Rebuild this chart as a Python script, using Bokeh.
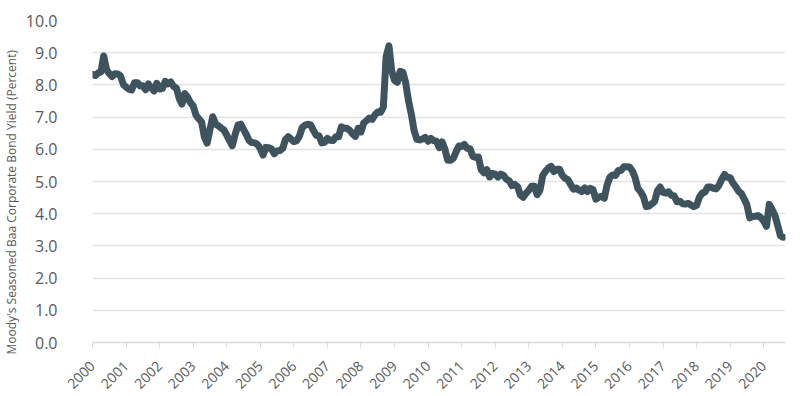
import math
from bokeh.plotting import figure
from bokeh.models import ColumnDataSource, FixedTicker, Range1d, NumeralTickFormatter, Title
from bokeh.embed import file_html
from bokeh.resources import INLINE

years = list(range(2000, 2021))
baa_2000 = [8.33, 8.29, 8.37, 8.40, 8.90, 8.48, 8.35, 8.26, 8.35, 8.34, 8.28, 8.02]
baa_2001 = [7.93, 7.87, 7.84, 8.07, 8.07, 7.97, 7.97, 7.85, 8.03, 7.91, 7.81, 8.05]
baa_2002 = [7.87, 7.89, 8.11, 8.03, 8.09, 7.95, 7.90, 7.58, 7.40, 7.73, 7.62, 7.45]
baa_2003 = [7.35, 7.06, 6.95, 6.85, 6.38, 6.19, 6.62, 7.01, 6.79, 6.73, 6.66, 6.60]
baa_2004 = [6.44, 6.27, 6.11, 6.46, 6.75, 6.78, 6.62, 6.46, 6.27, 6.21, 6.20, 6.15]
baa_2005 = [6.02, 5.82, 6.06, 6.05, 6.01, 5.86, 5.95, 5.96, 6.03, 6.30, 6.39, 6.32]
baa_2006 = [6.24, 6.27, 6.41, 6.68, 6.75, 6.78, 6.76, 6.59, 6.43, 6.42, 6.20, 6.22]
baa_2007 = [6.34, 6.28, 6.27, 6.39, 6.39, 6.70, 6.65, 6.65, 6.59, 6.48, 6.40, 6.65]
baa_2008 = [6.54, 6.82, 6.89, 6.97, 6.93, 7.07, 7.16, 7.15, 7.31, 8.88, 9.21, 8.43]
baa_2009 = [8.14, 8.08, 8.42, 8.39, 8.06, 7.50, 7.09, 6.58, 6.31, 6.29, 6.32, 6.37]
baa_2010 = [6.25, 6.34, 6.27, 6.25, 6.05, 6.23, 6.01, 5.66, 5.66, 5.72, 5.92, 6.10]
baa_2011 = [6.09, 6.15, 6.03, 6.02, 5.78, 5.75, 5.76, 5.36, 5.27, 5.37, 5.14, 5.25]
baa_2012 = [5.23, 5.14, 5.23, 5.19, 5.07, 5.02, 4.87, 4.91, 4.84, 4.58, 4.51, 4.63]
baa_2013 = [4.73, 4.85, 4.85, 4.59, 4.73, 5.19, 5.32, 5.42, 5.47, 5.31, 5.38, 5.38]
baa_2014 = [5.19, 5.10, 5.06, 4.90, 4.76, 4.80, 4.73, 4.69, 4.80, 4.69, 4.79, 4.74]
baa_2015 = [4.45, 4.51, 4.54, 4.48, 4.89, 5.13, 5.20, 5.19, 5.34, 5.34, 5.46, 5.46]
baa_2016 = [5.45, 5.34, 5.13, 4.79, 4.68, 4.53, 4.22, 4.24, 4.31, 4.38, 4.71, 4.83]
baa_2017 = [4.66, 4.64, 4.68, 4.57, 4.55, 4.37, 4.39, 4.31, 4.30, 4.32, 4.27, 4.22]
baa_2018 = [4.26, 4.51, 4.64, 4.67, 4.83, 4.83, 4.79, 4.77, 4.88, 5.07, 5.22, 5.13]
baa_2019 = [5.12, 4.95, 4.84, 4.70, 4.63, 4.46, 4.28, 3.87, 3.91, 3.92, 3.94, 3.88]
baa_2020 = [3.77, 3.61, 4.29, 4.13, 3.95, 3.64, 3.31, 3.27]

series = [baa_2000, baa_2001, baa_2002, baa_2003, baa_2004, baa_2005, baa_2006,
          baa_2007, baa_2008, baa_2009, baa_2010, baa_2011, baa_2012, baa_2013,
          baa_2014, baa_2015, baa_2016, baa_2017, baa_2018, baa_2019, baa_2020]

xs, ys = [], []
for yr, vals in zip(years, series):
    for m, v in enumerate(vals):
        xs.append(yr + m / 12.0)
        ys.append(v)

y_ticks = [0, 1, 2, 3, 4, 5, 6, 7, 8, 9, 10]
y_title = "Moody's Seasoned Baa Corporate Bond Yield (Percent)"

src = ColumnDataSource(dict(x=xs, y=ys))

p = figure(width=800, height=396, output_backend="svg", toolbar_location=None,
           x_range=Range1d(2000, 2020.65), y_range=Range1d(0, 10),
           min_border_left=92, min_border_right=15, min_border_top=20, min_border_bottom=53)
p.outline_line_color = None

p.line('x', 'y', source=src, line_width=7, line_color="#3e535e", line_join="round", line_cap="round")

# x axis
p.xaxis.ticker = FixedTicker(ticks=years)
p.xaxis.major_label_overrides = {y: str(y) for y in years}
p.xaxis.major_label_orientation = math.pi / 4
p.xaxis.axis_line_color = "#d9d9d9"
p.xaxis.axis_line_width = 1.5
p.xaxis.major_tick_line_color = "#d9d9d9"
p.xaxis.major_tick_out = 5
p.xaxis.major_tick_in = 0
p.xaxis.minor_tick_line_color = None
p.xaxis.major_label_text_font = "Open Sans"
p.xaxis.major_label_text_font_size = "14px"
p.xaxis.major_label_text_color = "#595959"
p.xaxis.major_label_standoff = 16

# y axis
p.yaxis.ticker = FixedTicker(ticks=y_ticks)
p.yaxis.formatter = NumeralTickFormatter(format="0.0")
p.yaxis.axis_line_color = None
p.yaxis.major_tick_line_color = None
p.yaxis.minor_tick_line_color = None
p.yaxis.major_label_text_font = "Open Sans"
p.yaxis.major_label_text_font_size = "16px"
p.yaxis.major_label_text_color = "#595959"
p.yaxis.major_label_standoff = 29

title = Title(text=y_title, align="left", offset=-12, vertical_align="top",
              text_font="Open Sans", text_font_size="12px", text_color="#595959",
              text_font_style="normal", standoff=2)
p.add_layout(title, "left")

p.xgrid.grid_line_color = None
p.ygrid.grid_line_color = "#e3e3e3"
p.ygrid.grid_line_width = 1.5

open("out.html", "w").write(file_html(p, INLINE))
